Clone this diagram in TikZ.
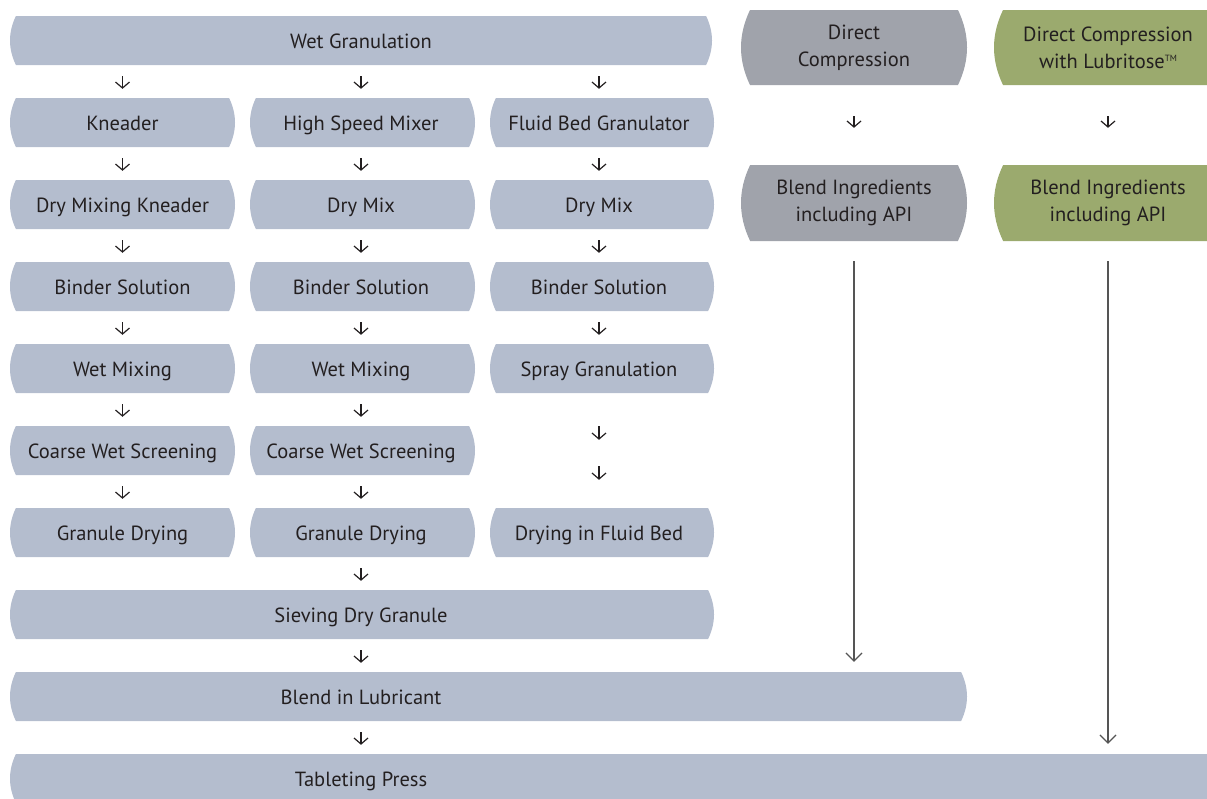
\documentclass[tikz,border=0pt]{standalone}
\usepackage{fontspec}
\setmainfont{PT Sans}
\usetikzlibrary{arrows.meta,calc}
\definecolor{boxblue}{RGB}{180,189,206}
\definecolor{boxgray}{RGB}{160,163,171}
\definecolor{boxgreen}{RGB}{155,170,110}
\definecolor{txtcol}{RGB}{35,31,32}
\definecolor{arrgray}{RGB}{85,85,85}
\tikzset{
  lbl/.style={text=txtcol, align=center, inner sep=0pt, font=\fontsize{20.5}{27}\selectfont},
  lbl1/.style={lbl, text height=17pt, text depth=1pt},
  lbl2/.style={lbl},
  sarr/.style={draw=txtcol, line width=1.2pt, -{Straight Barb[length=6pt,width=14pt]}, shorten <=11pt, shorten >=9pt},
  larr/.style={draw=arrgray, line width=1.2pt, -{Straight Barb[length=8pt,width=16pt]}}
}
% [label style] name, x1, y1, x2, y2, colour, text x, text
\newcommand\barrel[9][lbl1]{%
  \pgfmathsetmacro\bd{0.12*(#6-#4)}%
  \pgfmathsetmacro\bt{(#6-#4)/3}%
  \fill[#7] ({#3+\bd},#4) -- ({#5-\bd},#4)
    .. controls ({#5+\bd/3},{#4+\bt}) and ({#5+\bd/3},{#6-\bt}) .. ({#5-\bd},#6)
    -- ({#3+\bd},#6)
    .. controls ({#3-\bd/3},{#6-\bt}) and ({#3-\bd/3},{#4+\bt}) .. cycle;
  \node[inner sep=0pt, minimum width={#5-#3}, minimum height={#6-#4}] (#2) at ({(#3+#5)/2},{(#4+#6)/2}) {};
  \node[#1] (#2-t) at (#8,{(#4+#6)/2}) {#9};
}
\begin{document}
\begin{tikzpicture}[x=1pt,y=-1pt]
\useasboundingbox (0,0) rectangle (1207,798);
\clip (0,0) rectangle (1207,798);
% top row
\barrel{wg}{10}{16}{712}{65}{boxblue}{361}{Wet Granulation}
\barrel[lbl2]{dc}{741}{10}{967}{85}{boxgray}{854}{Direct\\Compression}
\barrel[lbl2]{dcl}{994}{10}{1235}{85}{boxgreen}{1108}{Direct Compression\\with Lubritose{\fontsize{9}{9}\selectfont\raisebox{7pt}{TM}}}
% row 2
\barrel{kn}{10}{98}{235}{147}{boxblue}{122.5}{Kneader}
\barrel{hs}{250}{98}{475}{147}{boxblue}{361}{High Speed Mixer}
\barrel{fb}{490}{98}{714}{147}{boxblue}{599}{Fluid Bed Granulator}
\barrel[lbl2]{bi1}{741}{165}{967}{241}{boxgray}{854}{Blend Ingredients\\including API}
\barrel[lbl2]{bi2}{994}{165}{1235}{241}{boxgreen}{1108}{Blend Ingredients\\including API}
% row 3
\barrel{dmk}{10}{180}{235}{229}{boxblue}{122.5}{Dry Mixing Kneader}
\barrel{dm2}{250}{180}{475}{229}{boxblue}{361}{Dry Mix}
\barrel{dm3}{490}{180}{714}{229}{boxblue}{599}{Dry Mix}
% row 4
\barrel{bs1}{10}{262}{235}{311}{boxblue}{122.5}{Binder Solution}
\barrel{bs2}{250}{262}{475}{311}{boxblue}{361}{Binder Solution}
\barrel{bs3}{490}{262}{714}{311}{boxblue}{599}{Binder Solution}
% row 5
\barrel{wm1}{10}{344}{235}{393}{boxblue}{122.5}{Wet Mixing}
\barrel{wm2}{250}{344}{475}{393}{boxblue}{361}{Wet Mixing}
\barrel{sg}{490}{344}{714}{393}{boxblue}{599}{Spray Granulation}
% row 6
\barrel{cw1}{10}{426}{235}{475}{boxblue}{122.5}{Coarse Wet Screening}
\barrel{cw2}{250}{426}{475}{475}{boxblue}{361}{Coarse Wet Screening}
% row 7
\barrel{gd1}{10}{508}{235}{557}{boxblue}{122.5}{Granule Drying}
\barrel{gd2}{250}{508}{475}{557}{boxblue}{361}{Granule Drying}
\barrel{df}{490}{508}{714}{557}{boxblue}{599}{Drying in Fluid Bed}
% rows 8-10
\barrel{sv}{10}{590}{714}{639}{boxblue}{361}{Sieving Dry Granule}
\barrel{bl}{10}{672}{967}{721}{boxblue}{361}{Blend in Lubricant}
\barrel{tp}{10}{754}{1240}{803}{boxblue}{361}{Tableting Press}
% short arrows
\draw[sarr] (kn.north |- wg.south) -- (kn.north);
\draw[sarr] (hs-t |- wg.south) -- (hs-t |- hs.north);
\draw[sarr] (fb-t |- wg.south) -- (fb-t |- fb.north);
\draw[sarr] (kn.south) -- (dmk.north);
\draw[sarr] (dmk.south) -- (bs1.north);
\draw[sarr] (bs1.south) -- (wm1.north);
\draw[sarr] (wm1.south) -- (cw1.north);
\draw[sarr] (cw1.south) -- (gd1.north);
\draw[sarr] (hs-t |- hs.south) -- (hs-t |- dm2.north);
\draw[sarr] (hs-t |- dm2.south) -- (hs-t |- bs2.north);
\draw[sarr] (hs-t |- bs2.south) -- (hs-t |- wm2.north);
\draw[sarr] (hs-t |- wm2.south) -- (hs-t |- cw2.north);
\draw[sarr] (hs-t |- cw2.south) -- (hs-t |- gd2.north);
\draw[sarr] (hs-t |- gd2.south) -- (hs-t |- sv.north);
\draw[sarr] (sv-t |- sv.south) -- (sv-t |- bl.north);
\draw[sarr] (bl-t |- bl.south) -- (bl-t |- tp.north);
\draw[sarr] (fb-t |- fb.south) -- (fb-t |- dm3.north);
\draw[sarr] (fb-t |- dm3.south) -- (fb-t |- bs3.north);
\draw[sarr] (fb-t |- bs3.south) -- (fb-t |- sg.north);
\draw[sarr, shorten <=33pt, shorten >=68pt] (sg-t |- sg.south) -- (sg-t |- df.north);
\draw[sarr, shorten <=73pt, shorten >=28pt] (sg-t |- sg.south) -- (sg-t |- df.north);
\draw[sarr, shorten <=31pt, shorten >=37pt] (dc-t |- dc.south) -- (dc-t |- bi1.north);
\draw[sarr, shorten <=31pt, shorten >=37pt] (dcl-t |- dcl.south) -- (dcl-t |- bi2.north);
% long arrows
\draw[larr, shorten <=20pt, shorten >=10pt] (bi1-t |- bi1.south) -- (bi1-t |- bl.north);
\draw[larr, shorten <=20pt, shorten >=10pt] (bi2-t |- bi2.south) -- (bi2-t |- tp.north);
\end{tikzpicture}
\end{document}
